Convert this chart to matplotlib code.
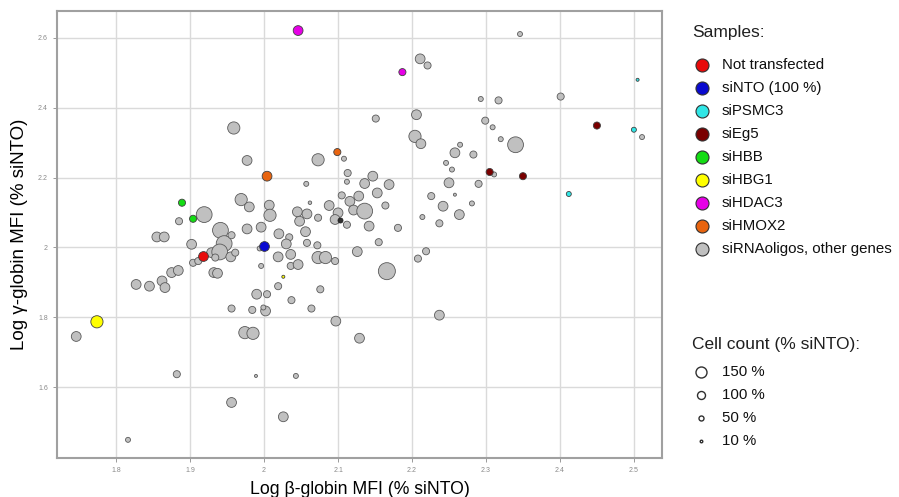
import matplotlib
matplotlib.use("Agg")
import matplotlib.pyplot as plt

plt.rcParams['font.family'] = ['Liberation Sans', 'DejaVu Sans']

# other siRNA oligos (log beta, log gamma, cell count %)
gray_x = [2.151, 1.959, 2.108, 2.073, 1.977, 2.057, 2.113, 2.112, 2.136, 2.147,
          1.885, 1.919, 1.969, 1.980, 2.007, 2.008, 2.062, 2.088, 2.045, 2.058,
          2.073, 2.048, 2.100, 2.116, 2.128, 2.105, 2.121, 2.136, 2.096, 2.112,
          2.142, 2.153, 2.056, 1.941, 1.977, 1.996, 2.020, 1.855, 1.865, 1.902,
          1.946, 1.956, 1.904, 1.911, 1.929, 1.940, 1.934, 1.955, 1.961, 1.932,
          1.937, 1.994, 2.034, 2.030, 2.058, 2.072, 2.019, 2.036, 2.036, 2.046,
          1.996, 2.073, 2.083, 2.096, 2.126, 2.155, 2.166, 1.875, 1.884, 1.862,
          1.866, 1.827, 1.845, 2.019, 1.990, 2.004, 2.076, 2.037, 1.956, 1.984,
          2.002, 1.999, 2.064, 2.097, 1.746, 1.974, 1.985, 2.129, 1.882, 1.989,
          2.043, 1.956, 2.026, 1.816, 2.346, 2.211, 2.221, 2.293, 2.317, 2.401,
          2.206, 2.299, 2.309, 2.511, 2.204, 2.212, 2.265, 2.320, 2.340, 2.258,
          2.283, 2.246, 2.254, 2.311, 2.250, 2.290, 2.258, 2.226, 2.242, 2.264,
          2.281, 2.214, 2.237, 2.169, 2.164, 2.181, 2.208, 2.219, 2.237]
gray_y = [2.369, 2.342, 2.254, 2.251, 2.249, 2.182, 2.213, 2.188, 2.183, 2.204,
          2.075, 2.094, 2.137, 2.116, 2.121, 2.092, 2.128, 2.120, 2.102, 2.096,
          2.085, 2.075, 2.099, 2.132, 2.147, 2.149, 2.107, 2.104, 2.080, 2.065,
          2.061, 2.156, 2.045, 2.049, 2.053, 2.058, 2.039, 2.030, 2.030, 2.009,
          2.011, 2.035, 1.956, 1.961, 1.985, 1.987, 1.971, 1.973, 1.985, 1.928,
          1.926, 1.997, 2.029, 2.010, 2.013, 2.006, 1.973, 1.980, 1.947, 1.951,
          1.947, 1.971, 1.971, 1.961, 1.988, 2.015, 1.932, 1.928, 1.934, 1.904,
          1.885, 1.894, 1.889, 1.889, 1.866, 1.866, 1.880, 1.849, 1.825, 1.821,
          1.818, 1.828, 1.825, 1.789, 1.745, 1.756, 1.754, 1.740, 1.637, 1.632,
          1.632, 1.556, 1.515, 1.449, 2.611, 2.540, 2.521, 2.425, 2.421, 2.432,
          2.380, 2.363, 2.344, 2.316, 2.318, 2.297, 2.294, 2.310, 2.294, 2.271,
          2.266, 2.242, 2.223, 2.209, 2.185, 2.182, 2.151, 2.147, 2.118, 2.094,
          2.126, 2.087, 2.069, 2.180, 2.120, 2.056, 1.968, 1.989, 1.806]
gray_cells = [85, 170, 50, 170, 130, 50, 85, 50, 130, 130,
              85, 230, 170, 130, 130, 170, 25, 130, 130, 130,
              85, 130, 130, 130, 130, 85, 130, 230, 130, 85,
              130, 130, 130, 230, 130, 130, 130, 130, 130, 130,
              230, 85, 85, 85, 130, 230, 85, 130, 85, 130,
              130, 50, 85, 130, 85, 85, 130, 130, 85, 130,
              50, 170, 170, 85, 130, 85, 250, 130, 130, 130,
              130, 130, 130, 85, 130, 85, 85, 85, 85, 85,
              130, 50, 85, 130, 130, 170, 170, 130, 85, 17,
              50, 130, 130, 50, 50, 130, 85, 50, 85, 85,
              130, 85, 50, 50, 170, 130, 50, 50, 230, 130,
              85, 50, 50, 50, 130, 85, 17, 85, 130, 130,
              50, 50, 85, 130, 85, 85, 85, 85, 130]

# highlighted samples
samples = ["Not transfected", "siNTO (100 %)", "siPSMC3", "siEg5", "siHBB",
           "siHBG1", "siHDAC3", "siHMOX2", "siRNAoligos, other genes"]
colors = ["#e80a0a", "#0a0ad0", "#30e6e6", "#7a0000", "#14dc14",
          "#ffff00", "#e600e6", "#e8640f", "#c0c0c0"]
sample_x = [[1.917], [2.000], [2.505, 2.500, 2.412], [2.450, 2.305, 2.350],
            [1.889, 1.904], [1.774, 2.026], [2.046, 2.187], [2.004, 2.099]]
sample_y = [[1.975], [2.004], [2.480, 2.337, 2.153], [2.349, 2.216, 2.204],
            [2.128, 2.082], [1.787, 1.916], [2.621, 2.502], [2.204, 2.273]]
sample_cells = [[130], [130], [17, 50, 50], [85, 85, 85],
                [85, 85], [170, 17], [130, 85], [130, 85]]

# dark point hidden in the cloud
dark_x, dark_y, dark_cells = [2.103], [2.078], [50]

size_levels = [150, 100, 50, 10]
xticks = [1.8, 1.9, 2.0, 2.1, 2.2, 2.3, 2.4, 2.5]
yticks = [1.6, 1.8, 2.0, 2.2, 2.4, 2.6]


def msize(cells):
    # marker diameter in px grows linearly with cell count
    return [((2 + 0.06 * c) * 0.72) ** 2 for c in cells]


fig = plt.figure(figsize=(8.99, 4.97), dpi=100)
ax = fig.add_axes([57 / 899, 39 / 497, 605 / 899, 447 / 497])

ax.scatter(gray_x, gray_y, s=msize(gray_cells), c=colors[-1],
           edgecolors="#5a5a5a", linewidths=0.6, zorder=3)
ax.scatter(dark_x, dark_y, s=msize(dark_cells), c="#303030",
           edgecolors="#202020", linewidths=0.6, zorder=3)
for xs, ys, cs, col in zip(sample_x, sample_y, sample_cells, colors):
    ax.scatter(xs, ys, s=msize(cs), c=col, edgecolors="#404040",
               linewidths=0.6, zorder=4)

ax.set_xlim(1.72, 2.538)
ax.set_ylim(1.397, 2.677)
ax.set_xticks(xticks)
ax.set_yticks(yticks)
ax.set_xticklabels([f"{t:g}" for t in xticks])
ax.set_yticklabels([f"{t:g}" for t in yticks])
ax.tick_params(labelsize=5, colors="#8a8a8a", length=3, width=0.6)
ax.grid(True, color="#dadada", linewidth=1.0, zorder=0)
ax.set_axisbelow(True)
for sp in ax.spines.values():
    sp.set_color("#a0a0a0")
    sp.set_linewidth(1.5)

ax.set_xlabel("Log β-globin MFI (% siNTO)", fontsize=12.7, labelpad=5)
ax.set_ylabel("Log γ-globin MFI (% siNTO)", fontsize=13.5, labelpad=7)

# legend panel drawn in pixel coordinates
lax = fig.add_axes([0, 0, 1, 1])
lax.set_xlim(0, 899)
lax.set_ylim(497, 0)
lax.axis("off")

lax.text(692, 33, "Samples:", fontsize=12.5, va="center", color="#202020")
for i, (name, col) in enumerate(zip(samples, colors)):
    y = 65 + i * 23
    lax.scatter([702], [y], s=(13 * 0.72) ** 2, c=col, edgecolors="#303030",
                linewidths=0.8)
    lax.text(722, y, name, fontsize=10.8, va="center", color="#101010")

lax.text(692, 345, "Cell count (% siNTO):", fontsize=12.5, va="center",
         color="#202020")
for i, lvl in enumerate(size_levels):
    y = 372 + i * 23
    lax.scatter([701], [y], s=msize([lvl]), facecolors="white",
                edgecolors="#303030", linewidths=1.0)
    lax.text(722, y, f"{lvl} %", fontsize=10.8, va="center", color="#101010")

fig.savefig("out.png", dpi=100)
